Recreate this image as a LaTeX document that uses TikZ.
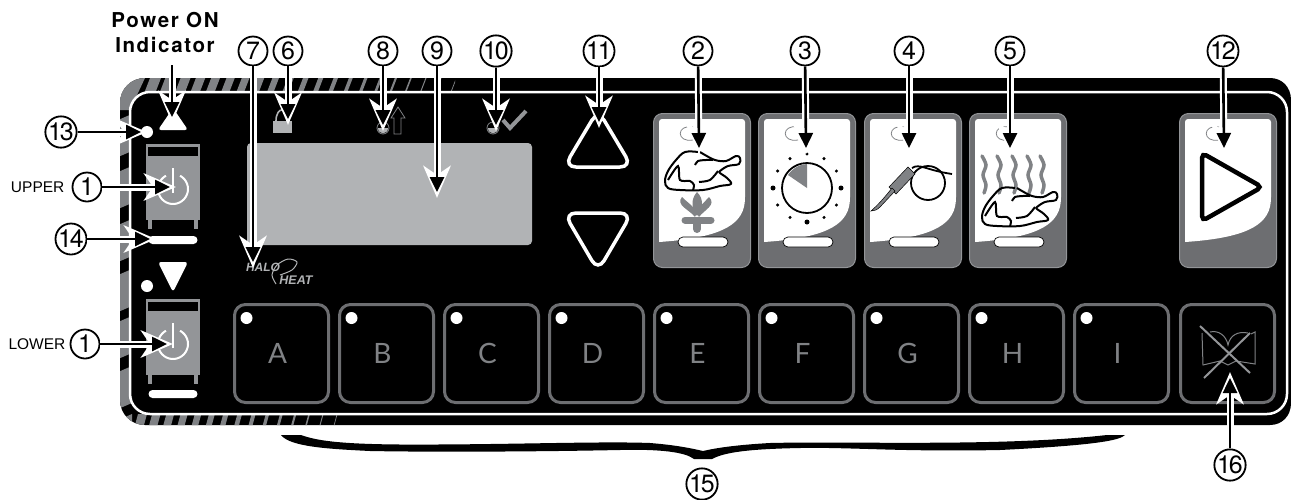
\documentclass[tikz,border=0pt]{standalone}
\usepackage{fontspec}
\setmainfont{Liberation Sans}
\newfontfamily\numfont[LetterSpace=-9]{TeX Gyre Heros}
\newfontfamily\keyfont{Lato}
\newfontfamily\boldfont[LetterSpace=8]{TeX Gyre Heros Bold}
\usetikzlibrary{positioning}
\usetikzlibrary{arrows.meta}
\definecolor{cardgray}{HTML}{6D6E71}
\definecolor{softgray}{HTML}{808285}
\definecolor{lcdgray}{HTML}{B1B3B5}
\definecolor{rimgray}{HTML}{939598}
\tikzset{
	callnum/.style = {circle, draw=black, line width=1.8pt, fill=white, minimum size=29pt, inner sep=0pt, font=\fontsize{25}{25}\numfont},
	callout/.style = {draw=black, line width=2.6pt, -{Triangle[length=15pt,width=14pt]},
		preaction={draw=white, line width=7pt, shorten >=-6pt, -{Stealth[length=32pt,width=27pt,inset=9pt]}}},
	cardbox/.style = {rectangle, rounded corners=9pt, fill=cardgray, draw=rimgray, line width=1pt, minimum width=97pt, minimum height=154pt, inner sep=0pt},
	keybox/.style = {rectangle, rounded corners=11pt, draw=cardgray, line width=3pt, minimum width=94pt, minimum height=98pt, inner sep=0pt, text=softgray, font=\fontsize{28}{28}\keyfont},
	pill/.style = {rectangle, rounded corners=5pt, fill=white, draw=black, line width=0.7pt, minimum width=50pt, minimum height=10pt, inner sep=0pt},
	whitebar/.style = {rectangle, rounded corners=4pt, fill=white, minimum width=49pt, minimum height=8pt, inner sep=0pt},
	keydot/.style = {circle, fill=white, minimum size=12pt, inner sep=0pt},
	tinyled/.style = {circle, draw=softgray, line width=0.8pt, minimum size=12pt, inner sep=0pt},
	chicken/.pic = {
		\draw[black, line width=2pt, line join=round] plot[smooth, tension=0.6] coordinates {(0,0) (-13,0) (-22,8) (-30,19) (-33,29) (-30,36) (-18,38) (5,38) (22,34) (33,32) (29,26) (22,21) (22,19) (30,14) (41,12) (42,6) (38,4) (28,9) (17,8) (7,3) (2,0)};
		\draw[black, line width=2pt] plot[smooth] coordinates {(-3,13) (0,9) (8,8) (15,8)};
		\draw[black, line width=2pt] plot[smooth] coordinates {(1,30) (12,28) (20,19)};
		\draw[black, line width=2pt] plot[smooth, tension=0.5] coordinates {(-30,28) (-20,14) (-18,28) (-8,29) (-4,33) (-5,38)};
	},
	powerbox/.pic = {
		\fill[rimgray] (146,0) rectangle (200,76);
		\fill[black] (148,3) rectangle (198,12);
		\fill[rimgray] (148,76) rectangle (152,85);
		\fill[rimgray] (194,76) rectangle (198,85);
		\draw[white, line width=2pt] plot[smooth, domain=-62:242, samples=30] ({173+15*cos(\x)},{45+15*sin(\x)});
		\draw[white, line width=2.4pt] (173,24) -- (173,49);
	}
}
\begin{document}
\begin{tikzpicture}[x=1pt, y=-1pt]
	\useasboundingbox (0,0) rectangle (1291,499);
	% panel
	\fill[black] (145,78) -- (1270,78) .. controls (1282,78) and (1291,87) .. (1291,100) -- (1291,403) .. controls (1291,416) and (1282,425) .. (1270,425) -- (145,425) .. controls (131,425) and (120,414) .. (120,400) -- (120,103) .. controls (120,89) and (131,78) .. (145,78) -- cycle;
	% rim stripes
	\begin{scope}
		\clip (145,78) -- (455,78) -- (455,91) -- (150,91) -- (130,110) -- (130,395) -- (150,414) -- (340,414) -- (340,425) -- (145,425) .. controls (131,425) and (120,414) .. (120,400) -- (120,103) .. controls (120,89) and (131,78) .. (145,78) -- cycle;
		\foreach \y in {70,120,172,225,275,322,372,420}
			\fill[softgray] (118,\y) -- (132,\y-6) -- (132,\y+31) -- (118,\y+37) -- cycle;
		\fill[softgray] (120,78) -- (145,78) -- (130,110) -- (120,110) -- cycle;
		\foreach \x in {0,...,20} {
			\pgfmathsetmacro{\wd}{max(0.8,11-\x*0.55)}
			\fill[softgray] ({145+\x*15.3},91) -- ({145+\x*15.3+\wd},91) -- ({150+\x*15.3+\wd},78) -- ({150+\x*15.3},78) -- cycle;
		}
		\foreach \x in {0,...,14} {
			\pgfmathsetmacro{\wd}{max(0.7,9-\x*0.62)}
			\fill[softgray] ({135+\x*14.2},425) -- ({135+\x*14.2+\wd},425) -- ({138+\x*14.2+\wd},414) -- ({138+\x*14.2},414) -- cycle;
		}
	\end{scope}
	\draw[white, line width=2.5pt, rounded corners=20pt] (130,92) rectangle (1287,414);
	% display
	\node (display) [rectangle, rounded corners=4pt, fill=lcdgray, minimum width=285pt, minimum height=102pt, inner sep=0pt] at (389.5,194) {};
	% left side controls
	\fill[white, rounded corners=3pt] (173,108) -- (188,130) -- (158,130) -- cycle;
	\fill[white, rounded corners=3pt] (173,292) -- (188,262) -- (158,262) -- cycle;
	\node (ledup) [keydot] at (147,132) {};
	\node (leddown) [keydot] at (147,286) {};
	\pic at (0,144) {powerbox};
	\pic at (0,299) {powerbox};
	\node (barup) [whitebar] at (173,240) {};
	\node (bardown) [whitebar] at (173,394) {};
	% lock
	\fill[lcdgray] (273,121) rectangle (292,133);
	\draw[lcdgray, line width=1.6pt] (276,121) .. controls (276,106) and (289,106) .. (289,121);
	% indicators
	\node (ledtemp) [tinyled] at (383,128) {};
	\fill[lcdgray] (378,128) -- (388,128) .. controls (388,135) and (378,135) .. (378,128);
	\draw[softgray, line width=0.8pt] (398,107) -- (405,118) -- (401,118) -- (401,134) -- (394,134) -- (394,118) -- (391,118) -- cycle;
	\node (ledready) [tinyled] at (493,128) {};
	\fill[lcdgray] (488,128) -- (498,128) .. controls (498,135) and (488,135) .. (488,128);
	\draw[rimgray, line width=4pt] (503,120) -- (510,128) -- (526,111);
	% logo
	\node (halo) [text=lcdgray, font=\fontsize{12}{12}\selectfont\bfseries\itshape, inner sep=0pt] at (263,267) {HALO};
	\node (heat) [text=lcdgray, font=\fontsize{12.5}{12.5}\selectfont\bfseries\itshape, inner sep=0pt] at (296,280) {HEAT};
	\draw[lcdgray, line width=1pt] plot[smooth] coordinates {(276,284) (272,275) (277,265) (288,259) (297,262) (292,270) (280,275)};
	% up and down keys
	\draw[white, line width=3.5pt, rounded corners=12pt] (598,110) -- (632,167) -- (564,167) -- cycle;
	\draw[white, line width=3.5pt, rounded corners=12pt] (564,213) -- (632,213) -- (598,271) -- cycle;
	% preset cards
	\foreach \i/\x in {2/653,3/758,4/864,5/969,12/1179} {
		\node (card\i) [cardbox, anchor=north west] at (\x,113) {};
		\fill[white, rounded corners=3pt] (\x+6,242) -- (\x+6,119) -- (\x+92,119) -- (\x+92,200) [sharp corners] .. controls (\x+89,226) and (\x+65,238) .. (\x+6,242) -- cycle;
		\draw[softgray, line width=0.8pt] (\x+40,127) .. controls (\x+23,124) and (\x+23,143) .. (\x+40,140);
	}
	\foreach \i/\x in {2/703,3/808,4/914,5/1019}
		\node (pill\i) [pill] at (\x,242) {};
	% roast icon
	\pic at (698,152) {chicken};
	\foreach \tipx/\tipy/\basex/\basey in {697/192/697/216, 682/197/695/217, 709/197/699/217}
		\fill[softgray] (\tipx,\tipy) .. controls (\tipx+8,\tipy+8) and (\basex+5,\basey-7) .. (\basex,\basey) .. controls (\basex-5,\basey-7) and (\tipx-7,\tipy+8) .. (\tipx,\tipy);
	\draw[softgray, line width=7pt, line cap=round] (685,220) -- (711,220);
	\draw[softgray, line width=8pt, line cap=round] (697,222) -- (697,229);
	% timer icon
	\draw[black, line width=1.8pt] (807,188) circle[radius=25];
	\fill[softgray] (807,188) -- (807,164) .. controls (800,164) and (793,168) .. (788,175) -- cycle;
	\foreach \a in {30,60,120,150,210,240,270,300,330}
		\fill[black] ({807+34*cos(\a)},{188+34*sin(\a)}) circle[radius=1.7];
	\foreach \a in {0,90,180}
		\fill[black] ({807+34*cos(\a)},{188+34*sin(\a)}) circle[radius=2.5];
	% probe icon
	\draw[black, line width=1.8pt] (928,183) circle[radius=17];
	\draw[black, line width=1.8pt] (912,168) .. controls (920,163) and (925,170) .. (952,174);
	\fill[softgray, draw=black, line width=0.5pt] (908,167) -- (915,174) -- (896,194) -- (889,187) -- cycle;
	\fill[softgray, draw=black, line width=0.5pt] (892,188) -- (895,191) -- (880,207) .. controls (877,210) and (874,211) .. (871,211) .. controls (878,205) and (885,197) .. (892,188);
	% steam and hot food icon
	\foreach \x in {982,997,1012,1027,1040}
		\draw[softgray, line width=3.5pt, line cap=round, xshift=\x pt] plot[smooth] coordinates {(0,156) (4,165) (1,175) (4,185) (2,193)};
	\pic at (1015,188) {chicken};
	% start icon
	\draw[black, line width=4.5pt, rounded corners=5pt] (1202,153) -- (1262,187) -- (1202,221) -- cycle;
	% keys
	\foreach \i/\name in {0/A,1/B,2/C,3/D,4/E,5/F,6/G,7/H,8/I} {
		\node (key\name) [keybox] at ({281.5+\i*105},353.5) {\name\kern8pt};
		\node (dot\name) [keydot] at ({246.5+\i*105},318) {};
	}
	\node (keybook) [keybox] at (1227.5,353.5) {};
	% book icon
	\draw[softgray, line width=1pt] (1202,333) -- (1203,365) -- (1220,361) -- (1228,365) -- (1236,361) -- (1255,364) -- (1255,332) -- (1251,334);
	\draw[softgray, line width=1pt] (1210,332) .. controls (1218,330) and (1226,335) .. (1228,345) .. controls (1230,335) and (1238,331) .. (1248,333);
	\draw[rimgray, line width=2pt] (1200,326) -- (1250,373);
	\draw[rimgray, line width=2pt] (1250,333) -- (1204,378);
	% callouts
	\node (poweron) [align=center, font=\fontsize{20.5}{25}\boldfont, inner sep=0pt] at (165,32) {Power ON\\Indicator};
	\node (n7) [callnum] at (253,51) {7};
	\node (n6) [callnum] at (288,51) {6};
	\node (n8) [callnum] at (383,51) {8};
	\node (n9) [callnum] at (437,51) {9};
	\node (n10) [callnum] at (496,51) {10};
	\node (n11) [callnum] at (599,51) {11};
	\node (n2) [callnum] at (698,51) {2};
	\node (n3) [callnum] at (805,51) {3};
	\node (n4) [callnum] at (909,51) {4};
	\node (n5) [callnum] at (1010,51) {5};
	\node (n12) [callnum] at (1223,51) {12};
	\node (n13) [callnum] at (61,132) {13};
	\node (n1a) [callnum] at (87,187) {1};
	\node (n14) [callnum] at (71,239) {14};
	\node (n1b) [callnum] at (85,344) {1};
	\node (n15) [callnum] at (702,484) {15};
	\node (n16) [callnum] at (1230,465) {16};
	\node (upper) [left=7pt of n1a, font=\fontsize{15.5}{15.5}\selectfont, inner sep=0pt] {UPPER};
	\node (lower) [left=4pt of n1b, font=\fontsize{15.5}{15.5}\selectfont, inner sep=0pt] {LOWER};
	\coordinate (s0) at (172,65);
	\coordinate (t0) at (172,117);
	\coordinate (t7) at (253,262);
	\coordinate (t6) at (288,119);
	\coordinate (t8) at (383,125);
	\coordinate (t9) at (437,192);
	\coordinate (t10) at (496,125);
	\coordinate (t11) at (599,122);
	\coordinate (t2) at (699,148);
	\coordinate (t3) at (806,148);
	\coordinate (t4) at (909,148);
	\coordinate (t5) at (1010,148);
	\coordinate (t12) at (1224,148);
	\coordinate (t13) at (141,132);
	\coordinate (t1a) at (170,187);
	\coordinate (t14) at (150,239);
	\coordinate (t1b) at (167,344);
	\coordinate (t16) at (1230,378);
	\foreach \n/\t in {s0/t0,n7/t7,n6/t6,n8/t8,n9/t9,n10/t10,n11/t11,n2/t2,n3/t3,n4/t4,n5/t5,n12/t12,n13/t13,n1a/t1a,n14/t14,n1b/t1b,n16/t16}
		\draw[callout] (\n) -- (\t);
	% brace
	\fill[black] (281,435) -- (301,435) .. controls (315,440) and (335,444) .. (400,444.5) .. controls (500,445) and (600,441) .. (650,443) .. controls (675,445) and (690,448) .. (703,451) .. controls (716,448) and (735,445) .. (770,443) .. controls (850,441) and (1000,447) .. (1107,435) -- (1125,435) .. controls (1120,440) and (1100,445) .. (1000,450) .. controls (900,452) and (850,447) .. (800,448) .. controls (750,449) and (725,452) .. (712,459) -- (694,459) .. controls (685,452) and (660,449) .. (620,450) .. controls (520,452) and (420,452) .. (370,451) .. controls (330,449) and (290,447) .. (281,435) -- cycle;
\end{tikzpicture}
\end{document}
